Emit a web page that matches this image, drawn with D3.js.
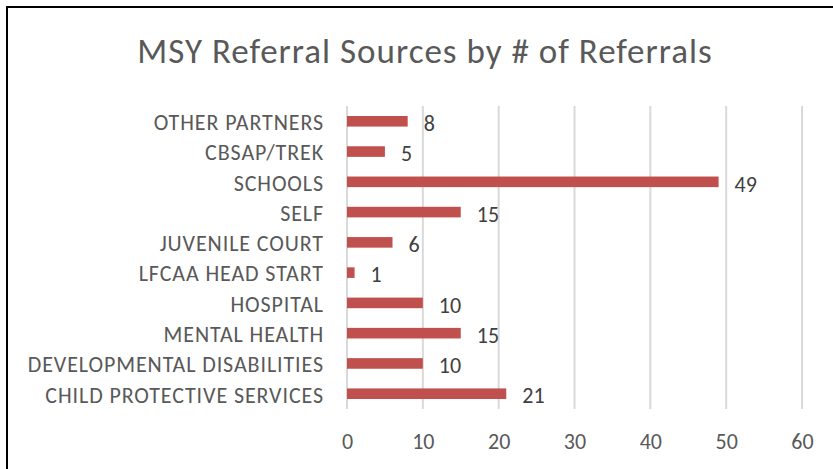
<!DOCTYPE html>
<html>
<head>
<meta charset="utf-8">
<script src="https://cdn.jsdelivr.net/npm/d3@7"></script>
<style>
  body { margin: 0; background: #fff; }
  svg { display: block; }
  svg text { font-family: Carlito, Lato, "Open Sans", "Liberation Sans", sans-serif; }
</style>
</head>
<body>
<svg class="referrals" width="833" height="469"></svg>
<script>
// chart data
const categories = [
  "OTHER PARTNERS",
  "CBSAP/TREK",
  "SCHOOLS",
  "SELF",
  "JUVENILE COURT",
  "LFCAA HEAD START",
  "HOSPITAL",
  "MENTAL HEALTH",
  "DEVELOPMENTAL DISABILITIES",
  "CHILD PROTECTIVE SERVICES",
];
const referrals = [8, 5, 49, 15, 6, 1, 10, 15, 10, 21];
const xTicks = [0, 10, 20, 30, 40, 50, 60];
const chartTitle = "MSY Referral Sources by # of Referrals";

const svg = d3.select("svg.referrals"),
  margin = { top: 106, right: 31, bottom: 60, left: 347 },
  width = +svg.attr("width") - margin.left - margin.right,
  height = +svg.attr("height") - margin.top - margin.bottom;

// frame (only top and left edges show in the crop)
svg.append("path")
  .attr("d", "M7,469V7H833")
  .attr("fill", "none")
  .attr("stroke", "#000")
  .attr("stroke-width", 2);

svg.append("text")
  .attr("x", 425)
  .attr("y", 63)
  .attr("text-anchor", "middle")
  .attr("fill", "#595959")
  .style("font-size", "35px")
  .style("letter-spacing", "1px")
  .text(chartTitle);

const data = categories.map((c, i) => ({ name: c, value: referrals[i] }));

const x = d3.scaleLinear().domain([0, 60]).range([0, width]);
const y = d3.scaleBand().domain(categories).range([0, height]).paddingInner(0.65).paddingOuter(0.33);

const g = svg.append("g").attr("transform", `translate(${margin.left}, ${margin.top})`);

// gridlines
g.append("g")
  .selectAll("line")
  .data(xTicks)
  .enter()
  .append("line")
  .attr("x1", (d) => x(d))
  .attr("x2", (d) => x(d))
  .attr("y1", 0)
  .attr("y2", height)
  .attr("stroke", "#d9d9d9")
  .attr("stroke-width", 2);

// x axis labels
const xAxis = d3.axisBottom(x).tickValues(xTicks).tickSize(0).tickPadding(24);
g.append("g")
  .attr("class", "x axis")
  .attr("transform", `translate(0, ${height})`)
  .call(xAxis)
  .attr("font-family", null)
  .call((a) => a.select(".domain").remove())
  .call((a) => a.selectAll("text").attr("fill", "#595959").style("font-size", "22px"));

// y axis labels
const yAxis = d3.axisLeft(y).tickSize(0).tickPadding(23);
g.append("g")
  .attr("class", "y axis")
  .call(yAxis)
  .attr("font-family", null)
  .call((a) => a.select(".domain").remove())
  .call((a) =>
    a.selectAll("text")
      .attr("fill", "#595959")
      .attr("dy", "0.4em")
      .style("font-size", "22px")
      .style("letter-spacing", "0.9px"),
  );

// bars
g.selectAll("rect.bar")
  .data(data)
  .enter()
  .append("rect")
  .attr("class", "bar")
  .attr("x", x(0))
  .attr("y", (d) => y(d.name))
  .attr("width", (d) => x(d.value) - x(0))
  .attr("height", y.bandwidth())
  .attr("fill", "#C0504D");

// value labels
g.selectAll("text.val")
  .data(data)
  .enter()
  .append("text")
  .attr("class", "val")
  .attr("x", (d) => x(d.value) + 16)
  .attr("y", (d) => y(d.name) + y.bandwidth() / 2 + 2)
  .attr("dy", "0.35em")
  .attr("fill", "#404040")
  .style("font-size", "22px")
  .text((d) => d.value);
</script>
</body>
</html>
